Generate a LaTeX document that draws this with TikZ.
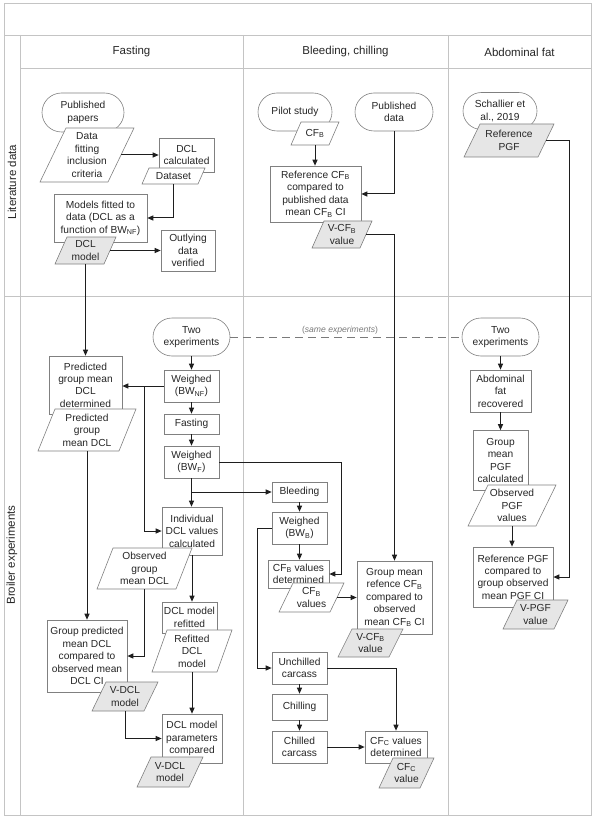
\documentclass[tikz,border=0pt]{standalone}
\usepackage{fontspec}
\setmainfont{Liberation Sans}
\usetikzlibrary{shapes.misc,arrows.meta,calc}
\definecolor{gridc}{HTML}{C4C4C4}
\definecolor{boxc}{HTML}{808080}
\definecolor{txtc}{HTML}{262626}
\definecolor{arrc}{HTML}{1E1E1E}
\definecolor{paraf}{HTML}{E6E6E6}
\definecolor{dashc}{HTML}{7A7A7A}
\newcommand\sbs[1]{\textsubscript{#1}}
\newcommand\nfont{\fontsize{10.2}{12.4}\selectfont}
\newcommand\hfont{\fontsize{11.5}{13}\selectfont}
% name, cx, cy, mid width, height, slant, fill, text
\newcommand\parashape[8]{%
  \filldraw[parab, fill=#7] ({#2-#4/2+#6/2},{#3-#5/2}) -- ({#2+#4/2+#6/2},{#3-#5/2}) -- ({#2+#4/2-#6/2},{#3+#5/2}) -- ({#2-#4/2-#6/2},{#3+#5/2}) -- cycle;
  \node[box, draw=none, fill=none, minimum width=#4pt, minimum height=#5pt] (#1) at (#2,#3) {#8};}
\tikzset{
  gridl/.style={draw=gridc, line width=0.8pt},
  box/.style={draw=boxc, line width=0.6pt, align=center, inner sep=0pt, font=\nfont, text=txtc, fill=white},
  term/.style={box, rounded rectangle},
  parab/.style={draw=boxc, line width=0.6pt},
  arr/.style={draw=arrc, line width=1pt, -{Triangle[length=6pt,width=5pt]}},
  dashl/.style={draw=dashc, line width=1pt, dash pattern=on 8pt off 5pt},
  hdr/.style={font=\hfont, text=txtc, inner sep=0pt},
  samelbl/.style={font=\fontsize{8.6}{10}\selectfont, text=dashc, inner sep=0pt}
}
\begin{document}
\begin{tikzpicture}[x=1pt,y=-1pt]
\useasboundingbox (0,0) rectangle (596,818);
% grid
\draw[gridl] (4,3) rectangle (591,815);
\draw[gridl] (4,35) -- (591,35);
\draw[gridl] (20,68) -- (591,68);
\draw[gridl] (4,296) -- (591,296);
\draw[gridl] (20,35) -- (20,815);
\draw[gridl] (243,35) -- (243,815);
\draw[gridl] (448,35) -- (448,815);
\node[hdr] (hfast) at (131.5,52) {Fasting};
\node[hdr] (hbleed) at (345.5,52) {Bleeding, chilling};
\node[hdr] (habd) at (519.5,52) {Abdominal fat};
\node[hdr, rotate=90] (llit) at (12,182) {Literature data};
\node[hdr, rotate=90] (lbro) at (12,555) {Broiler experiments};

% ---------- boxes and terminators ----------
% Fasting
\node[term, minimum width=82pt, minimum height=39pt] (pubpap) at (83,112.5) {Published\\papers};
\node[box, minimum width=55pt, minimum height=34pt] (dclcalc) at (186.5,155) {DCL\\calculated};
\node[box, minimum width=93pt, minimum height=48pt] (models) at (100.5,218) {Models fitted to\\data (DCL as a\\function of BW\sbs{NF})};
\node[box, minimum width=54pt, minimum height=41pt] (outlying) at (188,250.5) {Outlying\\data\\verified};
\node[term, minimum width=77pt, minimum height=38pt] (twoexp1) at (191.5,337) {Two\\experiments};
\node[box, minimum width=55pt, minimum height=32pt] (wnf) at (191.5,386) {Weighed\\(BW\sbs{NF})};
\node[box, minimum width=73pt, minimum height=58pt] (predbox) at (85.5,385) {Predicted\\group mean\\DCL\\determined};
\node[box, minimum width=55pt, minimum height=20pt] (fasting) at (191.5,424) {Fasting};
\node[box, minimum width=55pt, minimum height=32pt] (wf) at (191.5,462) {Weighed\\(BW\sbs{F})};
\node[box, minimum width=60pt, minimum height=48pt] (indiv) at (192,531) {Individual\\DCL values\\calculated};
\node[box, minimum width=55pt, minimum height=31pt] (refit) at (189.5,617.5) {DCL model\\refitted};
\node[box, minimum width=80pt, minimum height=72pt] (grppred) at (87,656) {Group predicted\\mean DCL\\compared to\\observed mean\\DCL CI};
\node[box, minimum width=60pt, minimum height=49pt] (dclparam) at (192,738.5) {DCL model\\parameters\\compared};
% Bleeding
\node[term, minimum width=74pt, minimum height=38pt] (pilot) at (295,112) {Pilot study};
\node[term, minimum width=78pt, minimum height=38pt] (pubdata) at (394,112) {Published\\data};
\node[box, minimum width=91pt, minimum height=56pt] (refcfb) at (315.5,194) {Reference CF\sbs{B}\\compared to\\published data\\mean CF\sbs{B} CI};
\node[box, minimum width=55pt, minimum height=20pt] (bleeding) at (299.5,492) {Bleeding};
\node[box, minimum width=55pt, minimum height=32pt] (wb) at (299.5,528) {Weighed\\(BW\sbs{B})};
\node[box, minimum width=61pt, minimum height=28pt] (cfbdet) at (298.5,574) {CF\sbs{B} values\\determined};
\node[box, minimum width=75pt, minimum height=73pt] (grpmean) at (394.5,597.5) {Group mean\\refence CF\sbs{B}\\compared to\\observed\\mean CF\sbs{B} CI};
\node[box, minimum width=55pt, minimum height=32pt] (unchilled) at (299.5,668) {Unchilled\\carcass};
\node[box, minimum width=55pt, minimum height=26pt] (chilling) at (299.5,707) {Chilling};
\node[box, minimum width=55pt, minimum height=32pt] (chilled) at (299.5,747) {Chilled\\carcass};
\node[box, minimum width=62pt, minimum height=32pt] (cfcdet) at (396,747) {CF\sbs{C} values\\determined};
% Abdominal
\node[term, minimum width=74pt, minimum height=37pt] (schallier) at (500,111) {Schallier et\\al., 2019};
\node[term, minimum width=77pt, minimum height=38pt] (twoexp2) at (500.5,337) {Two\\experiments};
\node[box, minimum width=61pt, minimum height=42pt] (abdfat) at (500.5,391) {Abdominal\\fat\\recovered};
\node[box, minimum width=55pt, minimum height=60pt] (grppgf) at (500.5,460.5) {Group\\mean\\PGF\\calculated};
\node[box, minimum width=80pt, minimum height=60pt] (refpgfcmp) at (513,577) {Reference PGF\\compared to\\group observed\\mean PGF CI};

% ---------- parallelograms ----------
\parashape{datafit}{87}{155}{68}{54}{26}{white}{Data\\fitting\\inclusion\\criteria}
\parashape{dataset}{173.5}{176}{56}{16}{7}{white}{Dataset}
\parashape{dclmodel}{85.5}{250.5}{49}{27}{12}{paraf}{DCL\\model}
\parashape{predpar}{87}{430}{81}{42}{17}{white}{Predicted\\group\\mean DCL}
\parashape{obspar}{144.5}{568.5}{79}{41}{16}{white}{Observed\\group\\mean DCL}
\parashape{refitpar}{192}{651}{65}{42}{15}{white}{Refitted\\DCL\\model}
\parashape{vdcla}{125}{696.5}{52}{29}{14}{paraf}{V-DCL\\model}
\parashape{vdclb}{170}{772}{52}{30}{14}{paraf}{V-DCL\\model}
\parashape{cfba}{315}{133.5}{38}{23}{10}{white}{CF\sbs{B}}
\parashape{vcfba}{342}{234.5}{48}{27}{12}{paraf}{V-CF\sbs{B}\\value}
\parashape{cfbval}{311.5}{597.5}{51}{29}{14}{white}{CF\sbs{B}\\values}
\parashape{vcfbb}{370.5}{643}{51}{28}{14}{paraf}{V-CF\sbs{B}\\value}
\parashape{cfcval}{406.5}{773}{41}{30}{14}{paraf}{CF\sbs{C}\\value}
\parashape{refpgf}{509}{140.5}{74}{33}{16}{paraf}{Reference\\PGF}
\parashape{obspgf}{512}{505.5}{68}{41}{20}{white}{Observed\\PGF\\values}
\parashape{vpgf}{535.5}{614.5}{51}{29}{14}{paraf}{V-PGF\\value}

% ---------- connectors ----------
\coordinate (j1) at (144,386);
\coordinate (j2) at (191.5,492);
\coordinate (k1) at (341,462);
\coordinate (k2) at (257,0);
\coordinate (k3) at (569,0);
\draw[dashl] (twoexp1.east) -- (twoexp2.west);
\node[samelbl] (same) at (340,330) {(\textit{same experiments})};
\draw[arr] (datafit.east) -- (dclcalc.west);
\draw[arr] (dataset.south) |- (models.east);
\draw[arr] (dclmodel.east) -- (dclmodel.east -| outlying.west);
\draw[arr] (dclmodel.south) -- (predbox.north);
\draw[arr] (twoexp1.south) -- (wnf.north);
\draw[arr] (wnf.west) -- (wnf.west -| predbox.east);
\draw[arr] (j1) |- (indiv.west);
\draw[arr] (wnf.south) -- (fasting.north);
\draw[arr] (fasting.south) -- (wf.north);
\draw[arr] (wf.east) -- (k1) |- (cfbdet.east);
\draw[arr] (wf.south) -- (wf.south |- indiv.north);
\draw[arr] (j2) -- (bleeding.west);
\draw[arr] (predpar.south) -- (grppred.north);
\draw[arr] (obspar.south) |- (grppred.east);
\draw[arr] (indiv.south) -- (indiv.south |- refit.north);
\draw[arr] (refitpar.south) -- (dclparam.north);
\draw[arr] (vdcla.south) |- (dclparam.west);
\draw[arr] (cfba.south) -- (cfba.south |- refcfb.north);
\draw[arr] (pubdata.south) |- (refcfb.east);
\draw[arr] (vcfba.east) -| (grpmean.north);
\draw[arr] (bleeding.south) -- (wb.north);
\draw[arr] (wb.south) -- (wb.south |- cfbdet.north);
\draw[arr] (wb.west) -- (wb.west -| k2) |- (unchilled.west);
\draw[arr] (cfbval.east) -- (grpmean.west);
\draw[arr] (unchilled.east) -| (cfcdet.north);
\draw[arr] (unchilled.south) -- (chilling.north);
\draw[arr] (chilling.south) -- (chilled.north);
\draw[arr] (chilled.east) -- (cfcdet.west);
\draw[arr] (refpgf.east) -- (refpgf.east -| k3) |- (refpgfcmp.east);
\draw[arr] (twoexp2.south) -- (abdfat.north);
\draw[arr] (abdfat.south) -- (grppgf.north);
\draw[arr] (obspgf.south) -- (obspgf.south |- refpgfcmp.north);
\end{tikzpicture}
\end{document}
